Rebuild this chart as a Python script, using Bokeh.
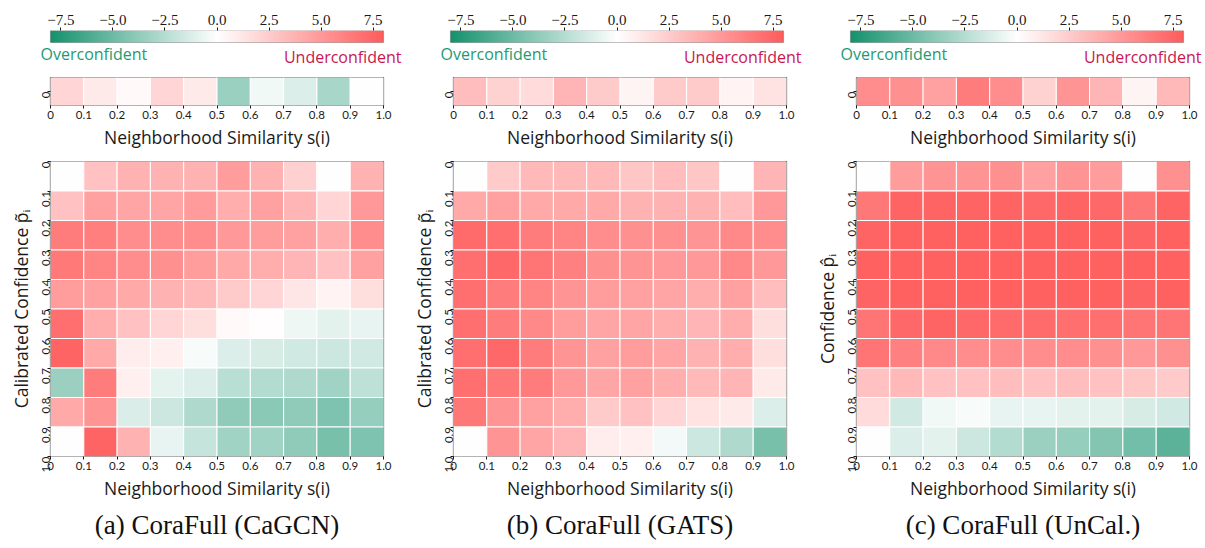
import numpy as np
from bokeh.plotting import figure
from bokeh.models import (ColumnDataSource, LinearColorMapper, Range1d, FixedTicker,
                          Label, Title, BoxAnnotation)
from bokeh.layouts import row, column
from bokeh.transform import transform
from bokeh.embed import file_html
from bokeh.resources import INLINE

# ---------------- data ----------------
bin_edges = [0.0, 0.1, 0.2, 0.3, 0.4, 0.5, 0.6, 0.7, 0.8, 0.9, 1.0]
bin_labels = ["0", "0.1", "0.2", "0.3", "0.4", "0.5", "0.6", "0.7", "0.8", "0.9", "1.0"]
cbar_ticks = [-7.5, -5.0, -2.5, 0.0, 2.5, 5.0, 7.5]
cbar_tick_labels = ["\u22127.5", "\u22125.0", "\u22122.5", "0.0", "2.5", "5.0", "7.5"]

captions = ["(a) CoraFull (CaGCN)", "(b) CoraFull (GATS)", "(c) CoraFull (UnCal.)"]
ylabels = ["Calibrated Confidence p\u0303\u1d62", "Calibrated Confidence p\u0303\u1d62",
           "Confidence p\u0302\u1d62"]

cagcn_strip = [2.0, 1.0, 0.3, 2.0, 1.0, -3.5, -0.5, -1.2, -3.0, 0.0]
gats_strip = [3.2, 2.2, 1.8, 3.6, 2.6, 0.5, 2.6, 2.6, 0.6, 1.4]
uncal_strip = [5.6, 5.4, 4.6, 6.4, 5.6, 2.2, 5.2, 3.6, 0.5, 3.4]

# rows: confidence bins 0-0.1 ... 0.9-1.0 ; columns: similarity bins
cagcn_grid = [
    [0.0, 3.0, 3.8, 3.8, 3.8, 4.8, 3.8, 2.3, 0.0, 3.8],
    [3.0, 4.6, 4.4, 4.4, 4.9, 4.0, 4.6, 3.6, 2.0, 5.0],
    [6.4, 6.3, 5.6, 5.6, 5.6, 5.0, 4.8, 4.6, 4.0, 5.6],
    [6.5, 6.0, 5.6, 5.4, 4.8, 4.2, 4.0, 3.6, 3.0, 4.6],
    [4.8, 4.6, 4.2, 3.8, 3.4, 2.6, 2.0, 1.2, 0.6, 1.6],
    [7.0, 4.0, 3.0, 2.0, 1.6, 0.3, 0.1, -0.6, -1.0, -0.8],
    [7.6, 4.2, 0.9, 0.8, -0.3, -1.2, -1.4, -1.6, -1.8, -1.6],
    [-3.4, 6.4, 0.8, -0.9, -1.2, -2.4, -2.6, -2.8, -3.2, -2.2],
    [4.2, 5.2, -1.3, -1.8, -2.8, -3.8, -4.0, -3.8, -4.4, -3.6],
    [0.0, 7.6, 3.8, -0.8, -2.0, -3.2, -3.2, -3.8, -4.6, -4.4],
]
gats_grid = [
    [0.0, 2.6, 3.4, 3.4, 3.4, 2.8, 3.2, 2.8, 0.0, 3.6],
    [4.2, 4.6, 4.2, 4.2, 4.2, 3.8, 3.8, 3.8, 3.2, 5.0],
    [7.2, 7.0, 6.4, 6.0, 5.6, 5.4, 5.4, 5.2, 5.8, 5.6],
    [7.0, 7.4, 6.8, 6.2, 5.4, 5.2, 5.0, 5.0, 5.8, 5.0],
    [7.0, 6.4, 6.0, 5.2, 4.8, 4.6, 4.4, 4.0, 4.6, 3.2],
    [7.0, 6.4, 5.8, 4.8, 4.4, 4.4, 4.0, 3.6, 4.0, 1.6],
    [7.0, 7.4, 6.4, 5.2, 4.6, 4.8, 4.4, 3.8, 4.0, 1.6],
    [7.0, 6.6, 6.4, 5.0, 4.4, 4.6, 4.0, 3.4, 3.6, 1.0],
    [6.6, 5.2, 4.6, 4.0, 2.6, 3.0, 2.0, 1.4, 1.0, -1.2],
    [0.0, 5.2, 4.4, 3.6, 0.9, 0.8, -0.4, -1.8, -2.8, -4.6],
]
uncal_grid = [
    [0.0, 4.8, 5.2, 5.2, 5.4, 4.6, 5.2, 4.8, 0.0, 5.4],
    [6.6, 7.6, 7.6, 7.6, 7.6, 7.4, 7.6, 7.4, 6.6, 7.6],
    [7.6, 7.8, 7.8, 7.8, 7.8, 7.8, 7.8, 7.8, 7.6, 7.8],
    [7.8, 7.8, 7.8, 7.8, 7.8, 7.8, 7.8, 7.8, 7.8, 7.8],
    [7.6, 7.8, 7.8, 7.8, 7.8, 7.8, 7.8, 7.8, 7.6, 7.8],
    [6.8, 7.4, 7.6, 7.4, 7.2, 7.2, 7.0, 7.0, 6.8, 6.8],
    [6.8, 6.2, 5.8, 5.6, 5.6, 5.6, 5.6, 5.4, 5.0, 5.4],
    [3.0, 3.4, 3.0, 3.0, 3.2, 3.0, 3.2, 3.0, 2.8, 2.6],
    [1.8, -1.6, -0.5, -0.3, -0.8, -0.8, -1.0, -1.0, -1.4, -1.6],
    [0.0, -1.2, -1.0, -1.8, -2.6, -3.4, -3.6, -4.2, -4.8, -5.6],
]

strips = [cagcn_strip, gats_strip, uncal_strip]
grids = [cagcn_grid, gats_grid, uncal_grid]

# ---------------- style ----------------
GREEN = (22, 146, 110)
RED = (255, 92, 92)
palette = []
for i in range(256):
    f = i / 255.0
    if f < 0.5:
        t = f / 0.5
        c = [GREEN[k] * (1 - t) + 255 * t for k in range(3)]
    else:
        t = (f - 0.5) / 0.5
        c = [255 * (1 - t) + RED[k] * t for k in range(3)]
    palette.append("#%02x%02x%02x" % tuple(int(round(v)) for v in c))
VMIN, VMAX = -8.0, 8.0

SANS = "Lato"
LABEL_SANS = "Open Sans"
SERIF = "Liberation Serif"
FW = 333
PXU = FW / (VMAX - VMIN)          # pixels per colour unit on the colorbar
EXT_L, EXT_R = 12, 20             # extra frame room for the side texts
BAR_H = 12                        # colorbar height in px (y range 0..1)
CB_FH = 38                        # colorbar frame height (bar + text room)
TXT = "#1a1a1a"
OUT = "#333333"

lefts = [50, 42, 42]
rights = [25, 25, 22]

centers = [(bin_edges[i] + bin_edges[i + 1]) / 2 for i in range(len(bin_edges) - 1)]
tick_over = {bin_edges[i]: bin_labels[i] for i in range(len(bin_edges))}


def style_axis(ax, size="11.5px"):
    ax.axis_line_color = None
    ax.major_tick_out = 3
    ax.major_tick_in = 0
    ax.minor_tick_line_color = None
    ax.major_tick_line_color = TXT
    ax.major_label_text_font = SANS
    ax.major_label_text_font_size = size
    ax.major_label_text_color = TXT
    ax.major_label_standoff = 2


def base_fig(fw, fh, left, right, top, bottom, xr, yr, xloc="below", yloc="left"):
    p = figure(frame_width=fw, frame_height=fh, x_range=xr, y_range=yr,
               x_axis_location=xloc, y_axis_location=yloc,
               output_backend="svg", toolbar_location=None,
               min_border_left=left, min_border_right=right,
               min_border_top=top, min_border_bottom=bottom)
    p.grid.visible = False
    p.outline_line_color = OUT
    p.outline_line_width = 1.2
    p.background_fill_color = "white"
    p.border_fill_color = "white"
    return p


cbars, lowers = [], []
for k in range(3):
    mapper = LinearColorMapper(palette=palette, low=VMIN, high=VMAX)

    # ---- colorbar (frame widened/deepened to hold the side texts) ----
    cb_xr = Range1d(VMIN - EXT_L / PXU, VMAX + EXT_R / PXU)
    cb_yr = Range1d(1 - CB_FH / BAR_H, 1)
    cb = base_fig(FW + EXT_L + EXT_R, CB_FH, lefts[k] - EXT_L, rights[k] - EXT_R, 30, 2,
                  cb_xr, cb_yr, xloc="above", yloc=None)
    cb.outline_line_color = None
    cb.image(image=[np.linspace(VMIN, VMAX, 600).reshape(1, -1)], x=VMIN, y=0,
             dw=VMAX - VMIN, dh=1, color_mapper=mapper)
    cb.add_layout(BoxAnnotation(left=VMIN, right=VMAX, bottom=0, top=1,
                                fill_color=None, line_color=OUT, line_width=1.2))
    style_axis(cb.xaxis[0])
    cb.xaxis.ticker = FixedTicker(ticks=cbar_ticks)
    cb.xaxis.major_label_overrides = dict(zip(cbar_ticks, cbar_tick_labels))
    cb.xaxis.major_label_text_font = SERIF
    cb.xaxis.major_label_text_font_size = "15px"
    cb.xaxis.major_label_standoff = 3
    cb.add_layout(Label(x=VMIN - 10 / PXU, y=0, text="Overconfident",
                        text_baseline="top", text_align="left", text_font=LABEL_SANS,
                        text_font_size="16px", text_color="#1e9b73"))
    cb.add_layout(Label(x=VMAX + 18 / PXU, y=-3 / BAR_H, text="Underconfident",
                        text_baseline="top", text_align="right", text_font=LABEL_SANS,
                        text_font_size="16px", text_color="#c8184f"))
    cbars.append(cb)

    # ---- strip ----
    st = base_fig(FW, 28, lefts[k], rights[k], 7, 40, Range1d(0, 1), Range1d(0, 1))
    st_src = ColumnDataSource(dict(x=centers, v=strips[k]))
    st.rect(x="x", y=0.5, width=0.1, height=1.0, source=st_src,
            fill_color=transform("v", mapper), line_color="white", line_width=1)
    style_axis(st.xaxis[0])
    style_axis(st.yaxis[0])
    st.xaxis.ticker = FixedTicker(ticks=bin_edges)
    st.xaxis.major_label_overrides = tick_over
    st.yaxis.ticker = FixedTicker(ticks=[0.5])
    st.yaxis.major_label_overrides = {0.5: "0"}
    st.yaxis.major_label_orientation = np.pi / 2
    st.xaxis.axis_label = "Neighborhood Similarity s(i)"
    st.xaxis.axis_label_text_font = LABEL_SANS
    st.xaxis.axis_label_text_font_size = "17.5px"
    st.xaxis.axis_label_text_font_style = "normal"
    st.xaxis.axis_label_text_color = TXT
    st.xaxis.axis_label_standoff = 3

    # ---- main heatmap ----
    mn = base_fig(FW, 295, lefts[k], rights[k], 10, 80, Range1d(0, 1), Range1d(1, 0))
    xs, ys, vs = [], [], []
    for r in range(10):
        for c in range(10):
            xs.append(centers[c])
            ys.append(centers[r])
            vs.append(grids[k][r][c])
    mn_src = ColumnDataSource(dict(x=xs, y=ys, v=vs))
    mn.rect(x="x", y="y", width=0.1, height=0.1, source=mn_src,
            fill_color=transform("v", mapper), line_color="white", line_width=1)
    style_axis(mn.xaxis[0])
    style_axis(mn.yaxis[0])
    mn.xaxis.ticker = FixedTicker(ticks=bin_edges)
    mn.xaxis.major_label_overrides = tick_over
    mn.yaxis.ticker = FixedTicker(ticks=bin_edges)
    mn.yaxis.major_label_overrides = tick_over
    mn.yaxis.major_label_orientation = np.pi / 2
    mn.xaxis.axis_label = "Neighborhood Similarity s(i)"
    mn.yaxis.axis_label = ylabels[k]
    for ax in (mn.xaxis[0], mn.yaxis[0]):
        ax.axis_label_text_font = LABEL_SANS
        ax.axis_label_text_font_size = "17.5px"
        ax.axis_label_text_font_style = "normal"
        ax.axis_label_text_color = TXT
        ax.axis_label_standoff = 3
    mn.yaxis.axis_label_standoff = 2
    mn.add_layout(Title(text=captions[k], align="center", text_font=SERIF,
                        text_font_size="27px", text_font_style="normal",
                        text_color="#111111"), "below")

    lowers.append(column(st, mn, spacing=0))

layout = column(row(*cbars, spacing=0), row(*lowers, spacing=0), spacing=0)

with open("out.html", "w") as f:
    f.write(file_html(layout, INLINE))
